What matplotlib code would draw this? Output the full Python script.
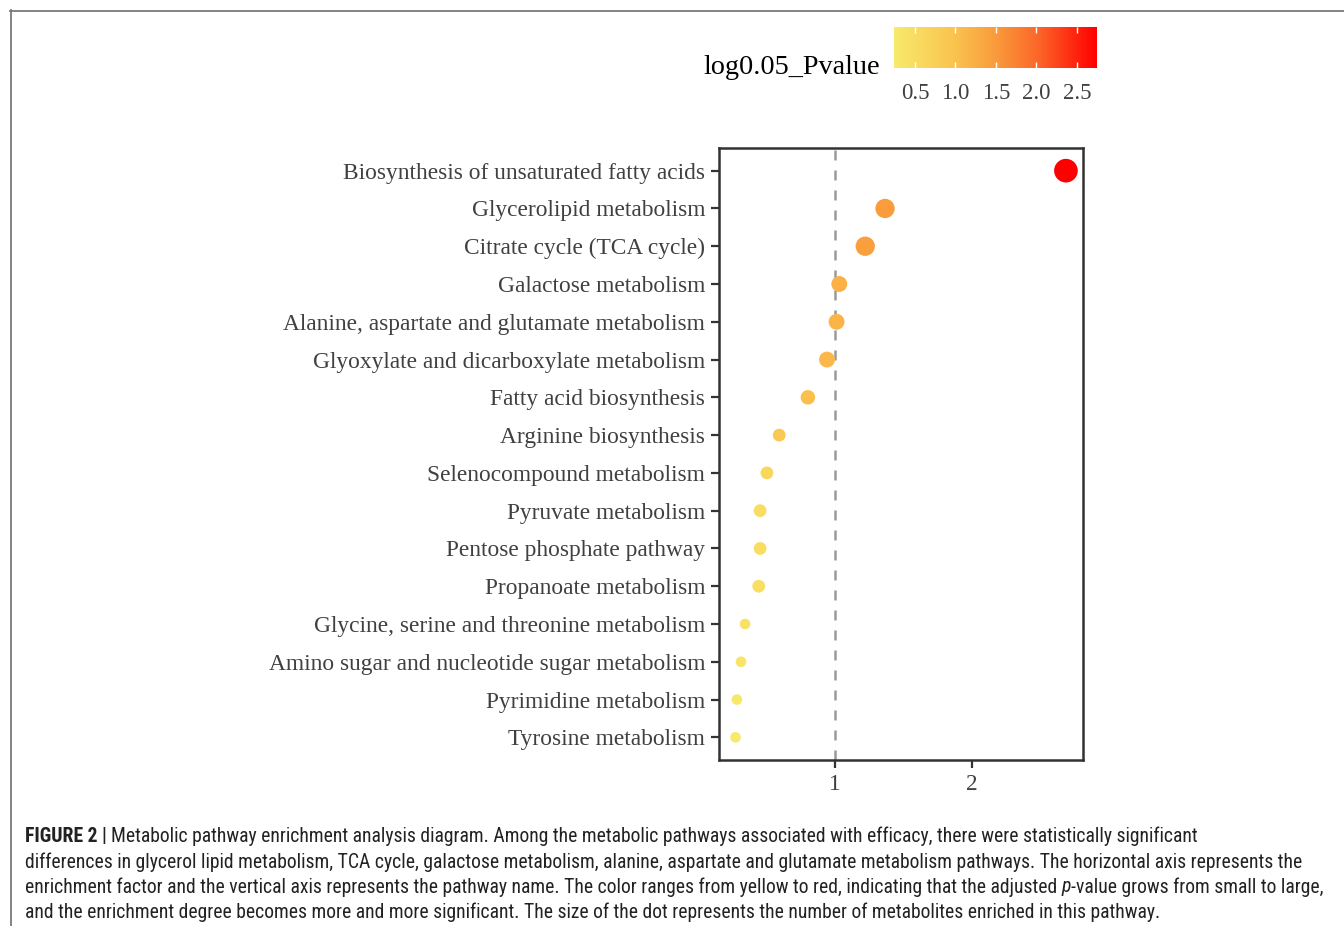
import matplotlib
matplotlib.use("Agg")
import matplotlib.pyplot as plt
from matplotlib.colors import LinearSegmentedColormap, Normalize
from matplotlib.lines import Line2D
from matplotlib import font_manager
from matplotlib.font_manager import FontProperties
import numpy as np

# ---- data -------------------------------------------------------------
pathways = [
    "Biosynthesis of unsaturated fatty acids",
    "Glycerolipid metabolism",
    "Citrate cycle (TCA cycle)",
    "Galactose metabolism",
    "Alanine, aspartate and glutamate metabolism",
    "Glyoxylate and dicarboxylate metabolism",
    "Fatty acid biosynthesis",
    "Arginine biosynthesis",
    "Selenocompound metabolism",
    "Pyruvate metabolism",
    "Pentose phosphate pathway",
    "Propanoate metabolism",
    "Glycine, serine and threonine metabolism",
    "Amino sugar and nucleotide sugar metabolism",
    "Pyrimidine metabolism",
    "Tyrosine metabolism",
]
enrichment = [2.69, 1.365, 1.22, 1.03, 1.01, 0.94, 0.80, 0.59,
              0.50, 0.45, 0.45, 0.44, 0.34, 0.31, 0.28, 0.27]
log_pvalue = [2.75, 1.50, 1.45, 1.22, 1.18, 1.15, 1.05, 0.88,
              0.62, 0.50, 0.50, 0.48, 0.40, 0.34, 0.28, 0.26]
hits = [12, 7, 7, 4, 4, 4, 3, 2, 2, 2, 2, 2, 1, 1, 1, 1]
cbar_ticks = [0.5, 1.0, 1.5, 2.0, 2.5]
x_ticks = [1, 2]

caption_lines = [
    [("FIGURE 2 | ", "bold"),
     ("Metabolic pathway enrichment analysis diagram. Among the metabolic pathways "
      "associated with efficacy, there were statistically significant", "normal")],
    [("differences in glycerol lipid metabolism, TCA cycle, galactose metabolism, alanine, "
      "aspartate and glutamate metabolism pathways. The horizontal axis represents the", "normal")],
    [("enrichment factor and the vertical axis represents the pathway name. The color ranges "
      "from yellow to red, indicating that the adjusted ", "normal"),
     ("p", "italic"),
     ("-value grows from small to large,", "normal")],
    [("and the enrichment degree becomes more and more significant. The size of the dot "
      "represents the number of metabolites enriched in this pathway.", "normal")],
]

# ---- figure ------------------------------------------------------------
W, H = 1344, 926
fig = plt.figure(figsize=(W / 100, H / 100), dpi=100)
fig.patch.set_facecolor("white")


def fx(x):
    return x / W


def fy(y):
    return 1 - y / H


serif = ["Liberation Serif", "DejaVu Serif"]
text_grey = "#404040"
axis_grey = "#333333"

cmap = LinearSegmentedColormap.from_list(
    "pval",
    [(0.0, "#F7EA6C"), (0.30, "#FBC34E"), (0.50, "#FA9B3C"),
     (0.70, "#FC6A2A"), (1.0, "#FF0000")])
norm = Normalize(vmin=0.24, vmax=2.75)

# main dot plot
ax = fig.add_axes([fx(719), fy(760), fx(1083) - fx(719), fy(148) - fy(760)])
ypos = np.arange(len(pathways))
diam_px = 5.3 + 5.3 * np.sqrt(np.array(hits, dtype=float))
sizes = (diam_px * 72 / 100) ** 2
ax.axvline(1, color="#9a9a9a", linestyle=(0, (4, 4)), linewidth=1.8, zorder=1)
ax.scatter(enrichment, ypos, s=sizes, c=log_pvalue, cmap=cmap, norm=norm,
           edgecolors="none", zorder=3)
ax.set_ylim(len(pathways) - 0.4, -0.6)
ax.set_xlim(0.149, 2.815)
ax.set_yticks(ypos)
ax.set_yticklabels(pathways, family=serif, fontsize=16.8, color=text_grey)
ax.set_xticks(x_ticks)
ax.set_xticklabels([str(t) for t in x_ticks], family=serif, fontsize=16.8,
                   color=text_grey)
ax.tick_params(axis="both", length=5.5, width=1.6, color=axis_grey, pad=4.5)
for sp in ax.spines.values():
    sp.set_color(axis_grey)
    sp.set_linewidth(1.8)

# colour bar legend
cax = fig.add_axes([fx(894), fy(68), fx(1097) - fx(894), fy(27) - fy(68)])
grad = np.linspace(0.24, 2.75, 400).reshape(1, -1)
cax.imshow(grad, aspect="auto", cmap=cmap, norm=norm,
           extent=[0.24, 2.75, 0, 1])
cax.set_xlim(0.24, 2.75)
cax.set_ylim(0, 1)
cax.set_yticks([])
cax.set_xticks(cbar_ticks)
cax.set_xticklabels([f"{t:.1f}" for t in cbar_ticks], family=serif,
                    fontsize=16.5, color=text_grey)
cax.tick_params(axis="x", direction="in", length=4.5, width=1.0, color="white",
                top=True, bottom=True, pad=10.5)
for sp in cax.spines.values():
    sp.set_visible(False)
fig.text(fx(880), fy(67), "log0.05_Pvalue", family=serif, fontsize=20.3,
         color="black", ha="right", va="center")

# page frame lines
fig.add_artist(Line2D([fx(10), fx(W)], [fy(10.5), fy(10.5)], color="#7a7a7a",
                      linewidth=1.3))
fig.add_artist(Line2D([fx(10.5), fx(10.5)], [fy(10), fy(H)], color="#7a7a7a",
                      linewidth=1.3))


# caption font: prefer a condensed sans face when one is installed
def pick_caption_font():
    wanted = ["Liberation Sans Narrow", "Roboto Condensed", "Open Sans Condensed",
              "DejaVu Sans Condensed", "Noto Sans Condensed"]
    entries = font_manager.fontManager.ttflist
    for name in wanted:
        for e in entries:
            if e.name == name and e.style == "normal" and e.weight in (400, "normal"):
                return {"normal": FontProperties(fname=e.fname), "family": name}
    for e in entries:
        low = e.fname.lower()
        if ("condensed" in low or "narrow" in low) and "sans" in low \
                and "bold" not in low and "oblique" not in low and "italic" not in low:
            return {"normal": FontProperties(fname=e.fname), "family": e.name}
    return None


cond = pick_caption_font()
cap_family = cond["family"] if cond else "Liberation Sans"


def cap_props(style, size):
    if cond is not None and style == "normal":
        fp = cond["normal"].copy()
        fp.set_size(size)
        return fp
    fp = FontProperties(family=[cap_family, "Liberation Sans"], size=size)
    if style == "bold":
        fp.set_weight("bold")
    if style == "italic":
        fp.set_style("italic")
    fp.set_stretch("condensed")
    return fp


fig.canvas.draw()
renderer = fig.canvas.get_renderer()


def line_width(pieces, size):
    total = 0.0
    for txt, style in pieces:
        p = fig.text(0, 0, txt, fontproperties=cap_props(style, size))
        total += p.get_window_extent(renderer).width
        p.remove()
    return total


# pick one size so that every caption line stays inside its column
targets = [1218, 1298, 1298, 1185]
ratios = [tw / line_width(pcs, 12) for pcs, tw in zip(caption_lines, targets)]
cap_size = 12 * min(ratios)

line_y = [834, 860, 885, 910]
for pieces, yy in zip(caption_lines, line_y):
    xcur = 25.0
    for txt, style in pieces:
        t = fig.text(fx(xcur), fy(yy), txt, fontproperties=cap_props(style, cap_size),
                     color="#222222", ha="left", va="center_baseline")
        xcur += t.get_window_extent(renderer).width

fig.savefig("out.png", dpi=100, facecolor="white")
